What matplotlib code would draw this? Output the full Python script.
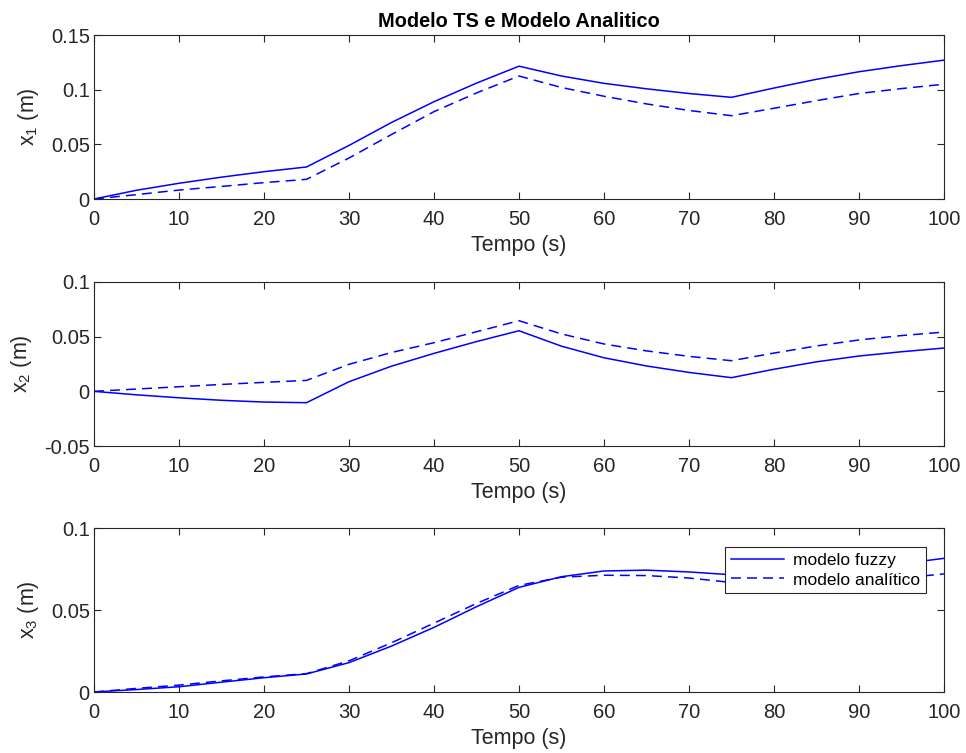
import matplotlib
matplotlib.use("Agg")
import matplotlib.pyplot as plt

plt.rcParams["font.family"] = ["Liberation Sans", "DejaVu Sans"]
plt.rcParams["mathtext.default"] = "regular"

# sampled responses, every 5 s
t = [0, 5, 10, 15, 20, 25, 30, 35, 40, 45, 50,
     55, 60, 65, 70, 75, 80, 85, 90, 95, 100]

x1_fuzzy = [0, 0.008, 0.0144, 0.020, 0.025, 0.0293, 0.049, 0.070, 0.089, 0.106, 0.1215,
            0.1125, 0.1058, 0.1008, 0.0965, 0.0930, 0.1015, 0.1095, 0.1164, 0.122, 0.127]
x1_anal = [0, 0.004, 0.0082, 0.0115, 0.015, 0.018, 0.0375, 0.059, 0.0799, 0.097, 0.1125,
           0.102, 0.094, 0.087, 0.081, 0.0762, 0.083, 0.090, 0.0965, 0.101, 0.105]

x2_fuzzy = [0, -0.0032, -0.0059, -0.0082, -0.0098, -0.0104, 0.0088, 0.023, 0.0347, 0.0455, 0.0554,
            0.0413, 0.0307, 0.0232, 0.0173, 0.0125, 0.0202, 0.0270, 0.0323, 0.0362, 0.0396]
x2_anal = [0, 0.0021, 0.0042, 0.0063, 0.0082, 0.0100, 0.0247, 0.0355, 0.0445, 0.0545, 0.0646,
           0.0525, 0.0433, 0.037, 0.032, 0.028, 0.035, 0.0415, 0.047, 0.051, 0.0542]

x3_fuzzy = [0, 0.0015, 0.0032, 0.006, 0.0087, 0.011, 0.0179, 0.028, 0.0394, 0.052, 0.0638,
            0.0703, 0.0738, 0.0743, 0.0732, 0.0715, 0.0708, 0.0722, 0.0748, 0.0782, 0.0815]
x3_anal = [0, 0.0022, 0.0042, 0.0068, 0.0092, 0.0112, 0.019, 0.030, 0.042, 0.054, 0.065,
           0.0700, 0.0712, 0.0710, 0.0695, 0.0668, 0.065, 0.0652, 0.0672, 0.0695, 0.0720]

x_ticks = list(range(0, 101, 10))
panels = [
    (x1_fuzzy, x1_anal, "x$_1$ (m)", (0, 0.15), [0, 0.05, 0.1, 0.15], ["0", "0.05", "0.1", "0.15"]),
    (x2_fuzzy, x2_anal, "x$_2$ (m)", (-0.05, 0.1), [-0.05, 0, 0.05, 0.1], ["-0.05", "0", "0.05", "0.1"]),
    (x3_fuzzy, x3_anal, "x$_3$ (m)", (0, 0.1), [0, 0.05, 0.1], ["0", "0.05", "0.1"]),
]

AX_GRAY = "#262626"
LEFT, WIDTH, HEIGHT = 0.0973, 0.8799, 0.2178
BOTTOMS = [0.7357, 0.4077, 0.0810]

fig = plt.figure(figsize=(9.66, 7.53), dpi=100)

for i, (yf, ya, ylab, ylim, yt, ytl) in enumerate(panels):
    ax = fig.add_axes([LEFT, BOTTOMS[i], WIDTH, HEIGHT])
    ax.plot(t, yf, color="b", lw=1.1, label="modelo fuzzy")
    ax.plot(t, ya, color="b", lw=1.1, ls=(0, (6.5, 4)), label="modelo analítico")
    ax.set_xlim(0, 100)
    ax.set_ylim(*ylim)
    ax.set_xticks(x_ticks)
    ax.set_yticks(yt)
    ax.set_yticklabels(ytl)
    ax.tick_params(direction="in", top=True, right=True, length=5,
                   labelsize=14.5, colors=AX_GRAY)
    ax.tick_params(axis="x", pad=8)
    ax.tick_params(axis="y", pad=3)
    for s in ax.spines.values():
        s.set_color(AX_GRAY)
        s.set_linewidth(0.8)
    ax.set_xlabel("Tempo (s)", fontsize=15.5, color=AX_GRAY, labelpad=4)
    ax.set_ylabel(ylab, fontsize=15.5, color=AX_GRAY, labelpad=7)
    if i == 0:
        ax.set_title("Modelo TS e Modelo Analitico", fontsize=14.4,
                     fontweight="bold", pad=6)
    if i == 2:
        leg = ax.legend(loc="upper right", bbox_to_anchor=(0.979, 0.882),
                        fontsize=12.5, frameon=True, fancybox=False, framealpha=1,
                        borderaxespad=0, handlelength=3.05, borderpad=0.32,
                        labelspacing=0.25, handletextpad=0.55)
        leg.get_frame().set_edgecolor(AX_GRAY)
        leg.get_frame().set_linewidth(0.8)

fig.savefig("out.png", dpi=100)
